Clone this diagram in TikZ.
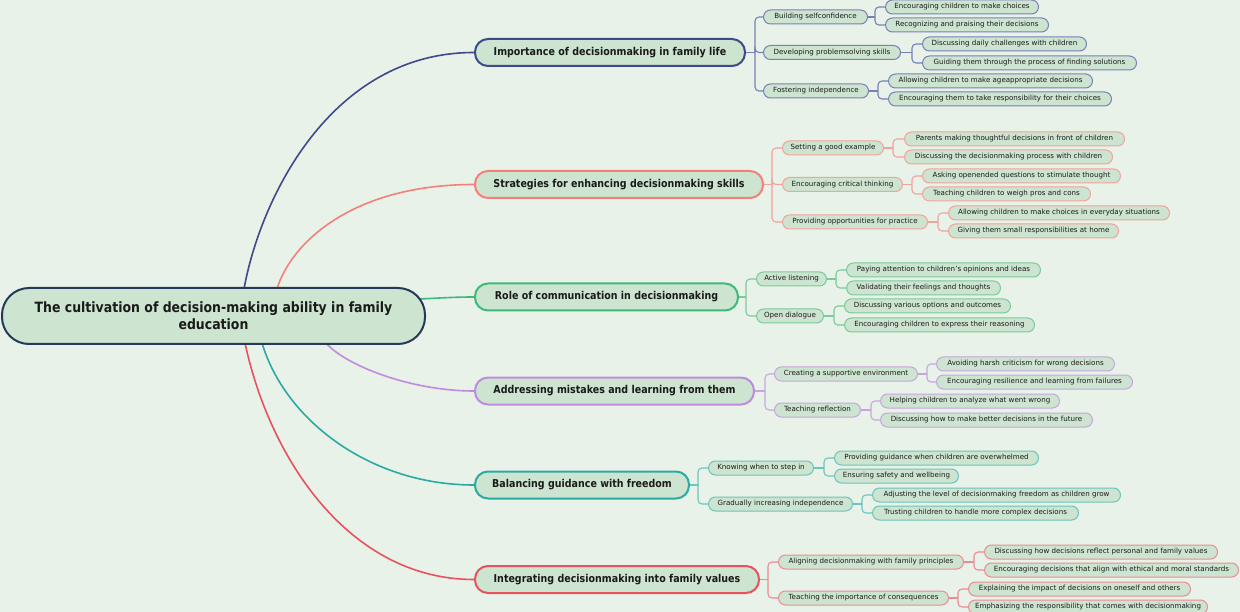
\documentclass[tikz,border=0pt]{standalone}
\usepackage{fontspec}
\setmainfont{DejaVu Sans}
\newfontfamily\titlefont[FakeStretch=0.88]{DejaVu Sans}
\definecolor{bgc}{HTML}{E8F2E8}
\definecolor{nodefill}{HTML}{CDE4D0}
\definecolor{rootc}{HTML}{243A58}
\definecolor{ca}{HTML}{3F4A8A}\definecolor{cal}{HTML}{7880B8}
\definecolor{cb}{HTML}{F5807A}\definecolor{cbl}{HTML}{F2A39C}
\definecolor{cc}{HTML}{3DB97A}\definecolor{ccl}{HTML}{7ACB9B}
\definecolor{cd}{HTML}{C08ADF}\definecolor{cdl}{HTML}{C9A5DF}
\definecolor{ce}{HTML}{2AAAA2}\definecolor{cel}{HTML}{6BC4BD}
\definecolor{cf}{HTML}{E8525F}\definecolor{cfl}{HTML}{EC8B93}
\definecolor{txt}{HTML}{1A1A1A}
\pgfdeclarelayer{back}
\pgfdeclarelayer{bg}
\pgfsetlayers{back,bg,main}
\tikzset{
  root/.style={draw=rootc, line width=2pt, fill=nodefill, rounded corners=27pt,
    minimum width=423pt, minimum height=56pt, align=center, text=txt, inner sep=0pt,
    font=\titlefont\bfseries\fontsize{14.2}{17}\selectfont},
  branchbox/.style={draw=#1, line width=2pt, fill=nodefill, rounded corners=13pt,
    minimum height=27pt, anchor=west, inner sep=0pt, text=txt,
    font=\titlefont\bfseries\fontsize{10.8}{12}\selectfont},
  subbox/.style={draw=#1, line width=1pt, fill=nodefill, rounded corners=7pt,
    minimum height=14pt, anchor=west, inner sep=0pt, text=txt,
    font=\fontsize{7.1}{8}\selectfont},
  mainline/.style={draw=#1, line width=1.6pt},
  subline/.style={draw=#1, line width=1.1pt, rounded corners=4pt},
}
\begin{document}
\begin{tikzpicture}[x=1pt,y=-1pt]
\begin{pgfonlayer}{back}
\fill[bgc] (0,0) rectangle (1240,612);
\end{pgfonlayer}
\useasboundingbox (0,0) rectangle (1240,612);

% root
\node[root] (root) at (213.5,316) {The cultivation of decision-making ability in family\\education};

% branches
\node[branchbox=ca, minimum width=270pt] (b1) at (474,52.5) {Importance of decisionmaking in family life};
\node[branchbox=cb, minimum width=288pt] (b2) at (474,184.5) {Strategies for enhancing decisionmaking skills};
\node[branchbox=cc, minimum width=263pt] (b3) at (474,297) {Role of communication in decisionmaking};
\node[branchbox=cd, minimum width=279pt] (b4) at (474,391) {Addressing mistakes and learning from them};
\node[branchbox=ce, minimum width=214pt] (b5) at (474,485) {Balancing guidance with freedom};
\node[branchbox=cf, minimum width=284pt] (b6) at (474,579.5) {Integrating decisionmaking into family values};

% branch 1
\node[subbox=cal, minimum width=104pt] (c11) at (763,17) {Building selfconfidence};
\node[subbox=cal, minimum width=137pt] (c12) at (763,52.5) {Developing problemsolving skills};
\node[subbox=cal, minimum width=105pt] (c13) at (763,91) {Fostering independence};
\node[subbox=cal, minimum width=153pt] (l111) at (885,7) {Encouraging children to make choices};
\node[subbox=cal, minimum width=163pt] (l112) at (885,25) {Recognizing and praising their decisions};
\node[subbox=cal, minimum width=164pt] (l121) at (922,44) {Discussing daily challenges with children};
\node[subbox=cal, minimum width=214pt] (l122) at (922,63) {Guiding them through the process of finding solutions};
\node[subbox=cal, minimum width=204pt] (l131) at (888,81) {Allowing children to make ageappropriate decisions};
\node[subbox=cal, minimum width=223pt] (l132) at (888,99) {Encouraging them to take responsibility for their choices};

% branch 2
\node[subbox=cbl, minimum width=101pt] (c21) at (782,148) {Setting a good example};
\node[subbox=cbl, minimum width=120pt] (c22) at (782,184.5) {Encouraging critical thinking};
\node[subbox=cbl, minimum width=145pt] (c23) at (782,222) {Providing opportunities for practice};
\node[subbox=cbl, minimum width=220pt] (l211) at (904,139) {Parents making thoughtful decisions in front of children};
\node[subbox=cbl, minimum width=208pt] (l212) at (904,157) {Discussing the decisionmaking process with children};
\node[subbox=cbl, minimum width=198pt] (l221) at (922,176) {Asking openended questions to stimulate thought};
\node[subbox=cbl, minimum width=168pt] (l222) at (922,194) {Teaching children to weigh pros and cons};
\node[subbox=cbl, minimum width=221pt] (l231) at (948,213) {Allowing children to make choices in everyday situations};
\node[subbox=cbl, minimum width=170pt] (l232) at (948,231) {Giving them small responsibilities at home};

% branch 3
\node[subbox=ccl, minimum width=70pt] (c31) at (756,279) {Active listening};
\node[subbox=ccl, minimum width=67pt] (c32) at (756,316) {Open dialogue};
\node[subbox=ccl, minimum width=194pt] (l311) at (846,270) {Paying attention to children's opinions and ideas};
\node[subbox=ccl, minimum width=154pt] (l312) at (846,288) {Validating their feelings and thoughts};
\node[subbox=ccl, minimum width=166pt] (l321) at (844,306) {Discussing various options and outcomes};
\node[subbox=ccl, minimum width=190pt] (l322) at (844,325) {Encouraging children to express their reasoning};

% branch 4
\node[subbox=cdl, minimum width=143pt] (c41) at (774,374) {Creating a supportive environment};
\node[subbox=cdl, minimum width=86pt] (c42) at (774,410) {Teaching reflection};
\node[subbox=cdl, minimum width=178pt] (l411) at (936,364) {Avoiding harsh criticism for wrong decisions};
\node[subbox=cdl, minimum width=196pt] (l412) at (936,382) {Encouraging resilience and learning from failures};
\node[subbox=cdl, minimum width=179pt] (l421) at (880,401) {Helping children to analyze what went wrong};
\node[subbox=cdl, minimum width=212pt] (l422) at (880,420) {Discussing how to make better decisions in the future};

% branch 5
\node[subbox=cel, minimum width=105pt] (c51) at (708,468) {Knowing when to step in};
\node[subbox=cel, minimum width=144pt] (c52) at (708,504) {Gradually increasing independence};
\node[subbox=cel, minimum width=204pt] (l511) at (834,458) {Providing guidance when children are overwhelmed};
\node[subbox=cel, minimum width=124pt] (l512) at (834,476) {Ensuring safety and wellbeing};
\node[subbox=cel, minimum width=248pt] (l521) at (872,495) {Adjusting the level of decisionmaking freedom as children grow};
\node[subbox=cel, minimum width=206pt] (l522) at (872,513) {Trusting children to handle more complex decisions};

% branch 6
\node[subbox=cfl, minimum width=185pt] (c61) at (778,562) {Aligning decisionmaking with family principles};
\node[subbox=cfl, minimum width=170pt] (c62) at (778,598) {Teaching the importance of consequences};
\node[subbox=cfl, minimum width=233pt] (l611) at (984,552) {Discussing how decisions reflect personal and family values};
\node[subbox=cfl, minimum width=254pt] (l612) at (984,570) {Encouraging decisions that align with ethical and moral standards};
\node[subbox=cfl, minimum width=222pt] (l621) at (968,589) {Explaining the impact of decisions on oneself and others};
\node[subbox=cfl, minimum width=239pt] (l622) at (968,607) {Emphasizing the responsibility that comes with decisionmaking};

% spine coordinates
\coordinate (s1) at (755,52.5);
\coordinate (s11) at (875,17);
\coordinate (s12) at (912,52.5);
\coordinate (s13) at (878,91);
\coordinate (s2) at (772,184.5);
\coordinate (s21) at (893,148);
\coordinate (s22) at (912,184.5);
\coordinate (s23) at (938,222);
\coordinate (s3) at (746,297);
\coordinate (s31) at (836,279);
\coordinate (s32) at (834,316);
\coordinate (s4) at (765,391);
\coordinate (s41) at (927,374);
\coordinate (s42) at (871,410);
\coordinate (s5) at (698,485);
\coordinate (s51) at (824,468);
\coordinate (s52) at (862,504);
\coordinate (s6) at (768,579.5);
\coordinate (s61) at (974,562);
\coordinate (s62) at (958,598);

\begin{pgfonlayer}{bg}
% main curves
\draw[mainline=ca] ([xshift=243pt,yshift=-2pt]root.north west) .. controls (260,200) and (330,52.5) .. (b1.west);
\draw[mainline=cb] ([xshift=276pt,yshift=-2pt]root.north west) .. controls (290,245) and (350,184.5) .. (b2.west);
\draw[mainline=cc] ([xshift=-6pt,yshift=17pt]root.east) .. controls (440,298) and (455,297) .. (b3.west);
\draw[mainline=cd] ([xshift=325pt,yshift=2pt]root.south west) .. controls (345,365) and (410,391) .. (b4.west);
\draw[mainline=ce] ([xshift=261pt,yshift=2pt]root.south west) .. controls (285,420) and (370,485) .. (b5.west);
\draw[mainline=cf] ([xshift=244pt,yshift=2pt]root.south west) .. controls (270,460) and (350,579.5) .. (b6.west);

% branch 1
\draw[subline=cal] (b1.east) -- (s1);
\draw[subline=cal] (s1) |- (c11.west);
\draw[subline=cal] (s1) |- (c12.west);
\draw[subline=cal] (s1) |- (c13.west);
\draw[subline=cal] (c11.east) -- (s11);
\draw[subline=cal] (s11) |- (l111.west);
\draw[subline=cal] (s11) |- (l112.west);
\draw[subline=cal] (c12.east) -- (s12);
\draw[subline=cal] (s12) |- (l121.west);
\draw[subline=cal] (s12) |- (l122.west);
\draw[subline=cal] (c13.east) -- (s13);
\draw[subline=cal] (s13) |- (l131.west);
\draw[subline=cal] (s13) |- (l132.west);

% branch 2
\draw[subline=cbl] (b2.east) -- (s2);
\draw[subline=cbl] (s2) |- (c21.west);
\draw[subline=cbl] (s2) |- (c22.west);
\draw[subline=cbl] (s2) |- (c23.west);
\draw[subline=cbl] (c21.east) -- (s21);
\draw[subline=cbl] (s21) |- (l211.west);
\draw[subline=cbl] (s21) |- (l212.west);
\draw[subline=cbl] (c22.east) -- (s22);
\draw[subline=cbl] (s22) |- (l221.west);
\draw[subline=cbl] (s22) |- (l222.west);
\draw[subline=cbl] (c23.east) -- (s23);
\draw[subline=cbl] (s23) |- (l231.west);
\draw[subline=cbl] (s23) |- (l232.west);

% branch 3
\draw[subline=ccl] (b3.east) -- (s3);
\draw[subline=ccl] (s3) |- (c31.west);
\draw[subline=ccl] (s3) |- (c32.west);
\draw[subline=ccl] (c31.east) -- (s31);
\draw[subline=ccl] (s31) |- (l311.west);
\draw[subline=ccl] (s31) |- (l312.west);
\draw[subline=ccl] (c32.east) -- (s32);
\draw[subline=ccl] (s32) |- (l321.west);
\draw[subline=ccl] (s32) |- (l322.west);

% branch 4
\draw[subline=cdl] (b4.east) -- (s4);
\draw[subline=cdl] (s4) |- (c41.west);
\draw[subline=cdl] (s4) |- (c42.west);
\draw[subline=cdl] (c41.east) -- (s41);
\draw[subline=cdl] (s41) |- (l411.west);
\draw[subline=cdl] (s41) |- (l412.west);
\draw[subline=cdl] (c42.east) -- (s42);
\draw[subline=cdl] (s42) |- (l421.west);
\draw[subline=cdl] (s42) |- (l422.west);

% branch 5
\draw[subline=cel] (b5.east) -- (s5);
\draw[subline=cel] (s5) |- (c51.west);
\draw[subline=cel] (s5) |- (c52.west);
\draw[subline=cel] (c51.east) -- (s51);
\draw[subline=cel] (s51) |- (l511.west);
\draw[subline=cel] (s51) |- (l512.west);
\draw[subline=cel] (c52.east) -- (s52);
\draw[subline=cel] (s52) |- (l521.west);
\draw[subline=cel] (s52) |- (l522.west);

% branch 6
\draw[subline=cfl] (b6.east) -- (s6);
\draw[subline=cfl] (s6) |- (c61.west);
\draw[subline=cfl] (s6) |- (c62.west);
\draw[subline=cfl] (c61.east) -- (s61);
\draw[subline=cfl] (s61) |- (l611.west);
\draw[subline=cfl] (s61) |- (l612.west);
\draw[subline=cfl] (c62.east) -- (s62);
\draw[subline=cfl] (s62) |- (l621.west);
\draw[subline=cfl] (s62) |- (l622.west);
\end{pgfonlayer}
\end{tikzpicture}
\end{document}
